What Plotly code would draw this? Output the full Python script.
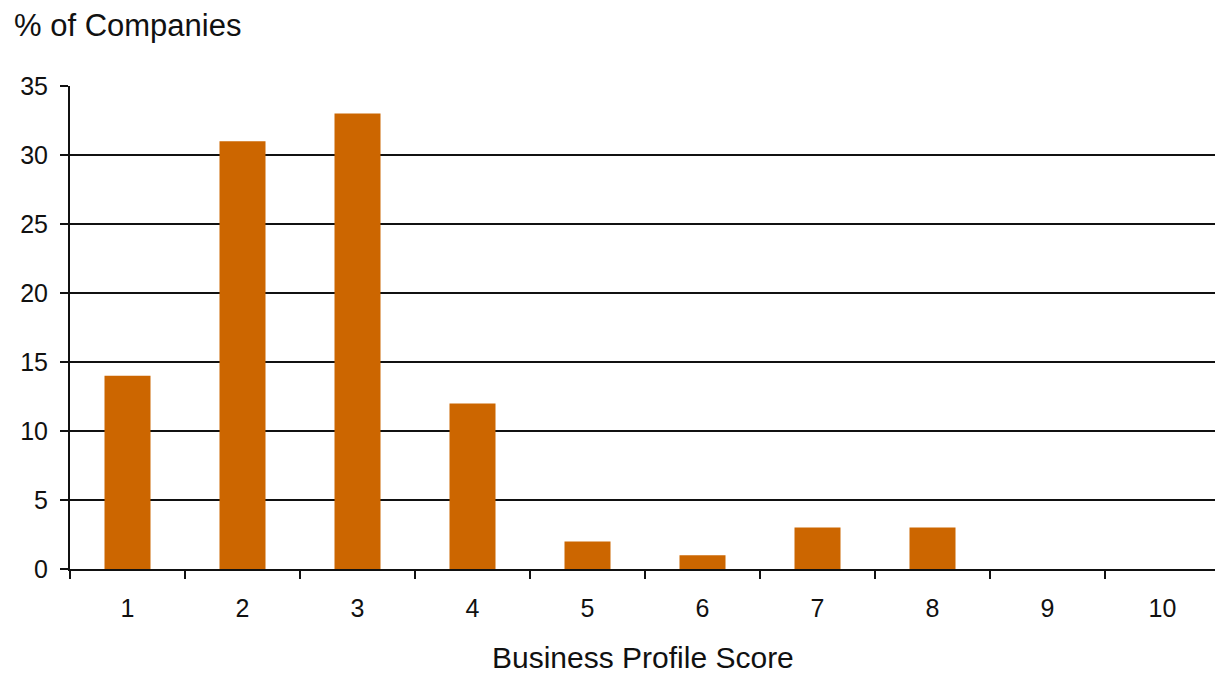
import plotly.graph_objects as go

categories = ["1", "2", "3", "4", "5", "6", "7", "8", "9", "10"]
values = [14, 31, 33, 12, 2, 1, 3, 3, 0, 0]
y_ticks = [0, 5, 10, 15, 20, 25, 30, 35]

font_family = "Liberation Sans, Arial, sans-serif"

fig = go.Figure(go.Bar(
    x=categories, y=values,
    marker=dict(color="#CC6600", line=dict(width=0)),
))

# page has an 8px body margin, so figure size is reduced accordingly
fig.update_layout(
    width=1215, height=666,
    margin=dict(l=62, r=3, t=78, b=105),
    paper_bgcolor="white", plot_bgcolor="white",
    bargap=0.6,
    showlegend=False,
    font=dict(family=font_family, size=25, color="#111111"),
    xaxis=dict(
        type="category", tickson="boundaries", automargin=False,
        ticks="outside", ticklen=8, tickwidth=2, tickcolor="#111111",
        showline=True, linecolor="#111111", linewidth=2,
        showgrid=False, ticklabelstandoff=16,
        tickfont=dict(size=25),
    ),
    yaxis=dict(
        range=[0, 35], tickvals=y_ticks, automargin=False,
        ticks="outside", ticklen=8, tickwidth=2, tickcolor="#111111",
        showline=True, linecolor="#111111", linewidth=2,
        showgrid=True, gridcolor="#111111", gridwidth=1.5,
        zeroline=False, ticklabelstandoff=7,
        tickfont=dict(size=25),
    ),
    annotations=[
        dict(text="% of Companies", xref="paper", yref="paper",
             x=0, y=1.0, xanchor="left", yanchor="middle",
             xshift=-58, yshift=61, showarrow=False, font=dict(size=31)),
        dict(text="Business Profile Score", xref="paper", yref="paper",
             x=0.5, y=0, xanchor="center", yanchor="middle",
             xshift=-2, yshift=-88, showarrow=False, font=dict(size=30)),
    ],
)

fig.write_html("out.html")
